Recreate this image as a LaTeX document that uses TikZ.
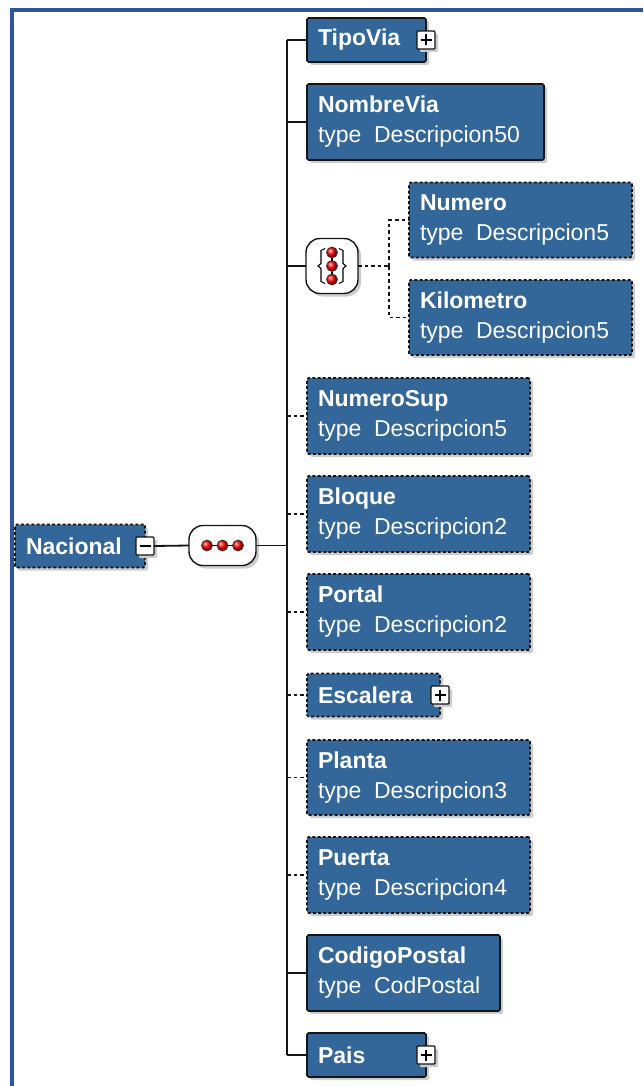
\documentclass[tikz,border=0pt]{standalone}
\usepackage{fontspec}
\setmainfont{Liberation Sans}
\usetikzlibrary{shadows}
\definecolor{boxblue}{RGB}{51,102,153}
\definecolor{framecol}{RGB}{47,85,151}
\definecolor{lineblack}{RGB}{20,20,20}
\newcommand{\tp}[1]{type\hspace{0.55em}#1}
\tikzset{
  shad/.style={drop shadow={shadow xshift=3pt, shadow yshift=-3pt, fill=black!20, opacity=1}},
  el/.style={draw=lineblack, fill=boxblue, text=white, line width=1.6pt, rounded corners=1.5pt,
    anchor=west, inner xsep=11pt, inner ysep=0pt, outer sep=0pt, align=left,
    font=\fontsize{23}{30}\selectfont, shad},
  optb/.style={dash pattern=on 3pt off 2.2pt},
  conn/.style={draw=lineblack, line width=1.8pt},
  optc/.style={dash pattern=on 3.5pt off 3pt},
  expbox/.style={draw=lineblack, fill=white, minimum size=18pt, inner sep=0pt, outer sep=0pt,
    line width=1.4pt, rounded corners=1pt, shad},
  sym/.style={draw=lineblack, fill=white, line width=1.4pt, outer sep=0pt, inner sep=0pt, shad},
  reddot/.style={circle, draw=black!80, line width=0.7pt, shading=ball, ball color=red,
    minimum size=11pt, inner sep=0pt, outer sep=0pt},
  pm/.style={line width=1.8pt, draw=black}
}
\begin{document}
\begin{tikzpicture}[x=1pt, y=-1pt]
\useasboundingbox (0,0) rectangle (643,1086);
% frame
\draw[framecol, line width=4pt, line join=miter] (12,1086) -- (12,10) -- (643,10);

% root element
\node[el, optb, text width=108pt, minimum height=43pt] (Nacional) at (15,546) {\textbf{Nacional}};
\node[expbox] (NacMinus) at (Nacional.east) {};
\draw[pm] ([xshift=3.5pt]NacMinus.west) -- ([xshift=-3.5pt]NacMinus.east);

% sequence compositor
\node[sym, minimum width=67pt, minimum height=40pt, rounded corners=14pt] (seq) at (222.5,545.5) {};
\node[reddot] (sd1) at (207,545.5) {};
\node[reddot] (sd2) at (222.5,545.5) {};
\node[reddot] (sd3) at (238,545.5) {};
\draw[line width=1.2pt] (sd1.east) -- (sd2.west);
\draw[line width=1.2pt] (sd2.east) -- (sd3.west);
\draw[conn] (NacMinus.east) -- (seq.west);

% children
\node[el, text width=97pt, minimum height=44pt] (TipoVia) at (307,40) {\textbf{TipoVia}};
\node[expbox] (TipoViaPlus) at (TipoVia.east) {};
\node[el, text width=215pt, minimum height=76pt] (NombreVia) at (307,122) {\textbf{NombreVia}\\\tp{Descripcion50}};

% choice compositor
\node[sym, minimum width=52pt, minimum height=55pt, rounded corners=14pt] (choice) at (332,266) {};
\node[reddot] (cd1) at (332,252.5) {};
\node[reddot] (cd2) at (332,266) {};
\node[reddot] (cd3) at (332,279.5) {};
\draw[line width=1.2pt] (cd1.south) -- (cd2.north);
\draw[line width=1.2pt] (cd2.south) -- (cd3.north);
\draw[line width=1.1pt] (325,248.5) -- (321,250.5) -- (321,263.5) -- (318,266) -- (321,268.5) -- (321,281.5) -- (325,283.5);
\draw[line width=1.1pt] (339,248.5) -- (343,250.5) -- (343,263.5) -- (346,266) -- (343,268.5) -- (343,281.5) -- (339,283.5);

\node[el, optb, text width=201pt, minimum height=75pt] (Numero) at (409,220) {\textbf{Numero}\\\tp{Descripcion5}};
\node[el, optb, text width=201pt, minimum height=75pt] (Kilometro) at (409,317.5) {\textbf{Kilometro}\\\tp{Descripcion5}};

\node[el, optb, text width=201pt, minimum height=76pt] (NumeroSup) at (307,416) {\textbf{NumeroSup}\\\tp{Descripcion5}};
\node[el, optb, text width=201pt, minimum height=76pt] (Bloque) at (307,514) {\textbf{Bloque}\\\tp{Descripcion2}};
\node[el, optb, text width=201pt, minimum height=76pt] (Portal) at (307,612) {\textbf{Portal}\\\tp{Descripcion2}};
\node[el, optb, text width=111pt, minimum height=43pt] (Escalera) at (307,695) {\textbf{Escalera}};
\node[expbox] (EscaleraPlus) at (Escalera.east) {};
\node[el, optb, text width=201pt, minimum height=75pt] (Planta) at (307,777.5) {\textbf{Planta}\\\tp{Descripcion3}};
\node[el, optb, text width=201pt, minimum height=76pt] (Puerta) at (307,875) {\textbf{Puerta}\\\tp{Descripcion4}};
\node[el, text width=171pt, minimum height=76pt] (CodigoPostal) at (307,973) {\textbf{CodigoPostal}\\\tp{CodPostal}};
\node[el, text width=97pt, minimum height=44pt] (Pais) at (307,1055) {\textbf{Pais}};
\node[expbox] (PaisPlus) at (Pais.east) {};

% plus signs
\foreach \p in {TipoViaPlus, EscaleraPlus, PaisPlus}{
  \draw[pm] ([xshift=3.5pt]\p.west) -- ([xshift=-3.5pt]\p.east);
  \draw[pm] ([yshift=-3.5pt]\p.north) -- ([yshift=3.5pt]\p.south);
}

% trunk and stubs
\coordinate (trunk) at (287,545.5);
\draw[conn] (seq.east) -- (trunk);
\draw[conn] (trunk |- TipoVia.west) -- (trunk |- Pais.west);
\foreach \c in {TipoVia, NombreVia, choice, CodigoPostal, Pais}{
  \draw[conn] (trunk |- \c.west) -- (\c.west);
}
\foreach \c in {NumeroSup, Bloque, Portal, Escalera, Planta, Puerta}{
  \draw[conn, optc] (trunk |- \c.west) -- (\c.west);
}

% choice branches
\coordinate (chj) at (389,266);
\draw[conn, optc] (choice.east) -- (chj);
\draw[conn, optc] (chj) |- (Numero.west);
\draw[conn, optc] (chj) |- (Kilometro.west);
\end{tikzpicture}
\end{document}
